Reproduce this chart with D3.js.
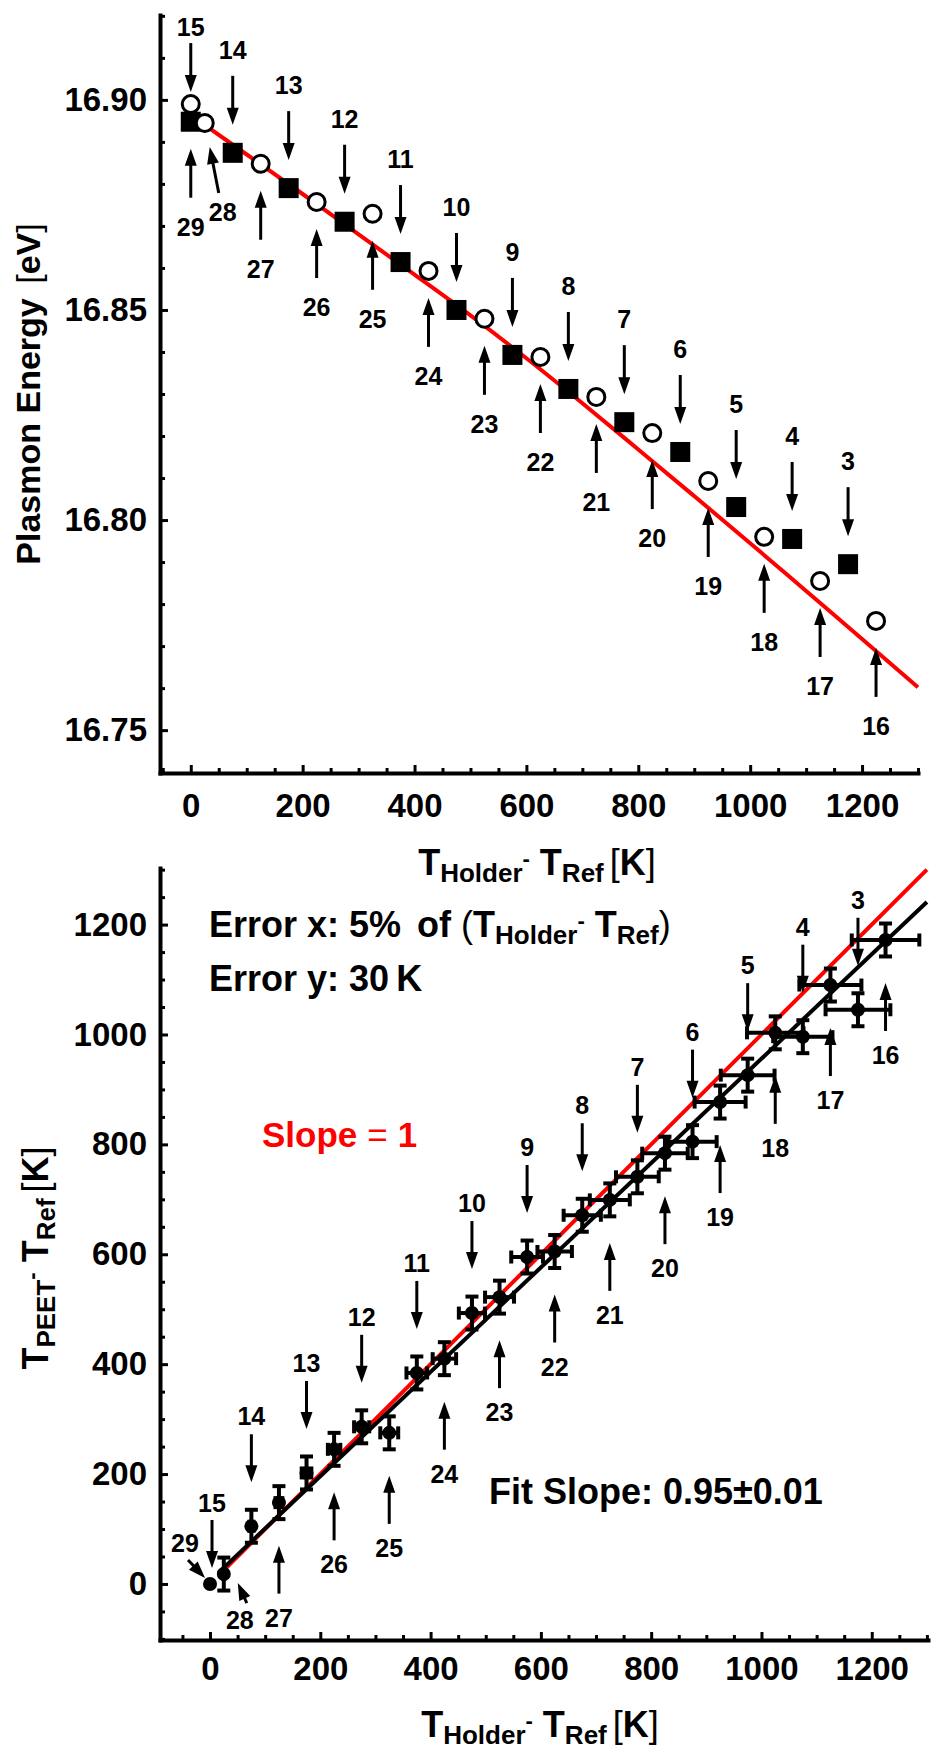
<!DOCTYPE html>
<html>
<head>
<meta charset="utf-8">
<script src="https://cdn.jsdelivr.net/npm/d3@7"></script>
<style>
  body { margin: 0; background: #fff; }
  text { font-family: "Liberation Sans", Arial, sans-serif; font-weight: bold; }
</style>
</head>
<body>
<div id="chart"></div>
<script>
var WIDTH = 950
var HEIGHT = 1755

// heating run, arrows from above, labels 15 .. 3
var heatLabels = ["15","14","13","12","11","10","9","8","7","6","5","4","3"]
var heatT = [0,75,175,275,375,475,575,675,775,875,975,1075,1175]
var heatE = [16.899,16.8874,16.879,16.871,16.8614,16.850,16.8393,16.8312,16.8233,16.8162,16.8031,16.7955,16.7895]
var heatPeet = [0,105,202,286,384,493,595,671,741,805,926,996,1045]

// cooling run, arrows from below, labels 29 .. 16
var coolLabels = ["29","28","27","26","25","24","23","22","21","20","19","18","17","16"]
var coolT = [0,25,125,225,325,425,525,625,725,825,925,1025,1125,1225]
var coolE = [16.8948,16.8945,16.8848,16.8757,16.8729,16.8593,16.8479,16.8388,16.8293,16.8207,16.8093,16.7960,16.7855,16.7760]
var coolPeet = [0,18,148,245,275,410,522,605,699,784,877,1003,1090,1172]

// red guide curve in the top panel
var curveT = [10,100,200,300,400,500,600,700,800,900,1000,1100,1200,1300]
var curveE = [16.8954,16.8870,16.8776,16.8680,16.8584,16.8487,16.8385,16.8278,16.8168,16.8057,16.7945,16.7831,16.7717,16.7602]

// bottom panel lines
var lineT = [15, 1300]
var fitSlope = 0.95
var fitIntercept = 6
var errXFrac = 0.05
var errY = 30

var topXTicks = [0,200,400,600,800,1000,1200]
var topYTicks = [16.75,16.80,16.85,16.90]
var botXTicks = [0,200,400,600,800,1000,1200]
var botYTicks = [0,200,400,600,800,1000,1200]

var svg = d3.select("#chart").append("svg")
  .attr("width", WIDTH)
  .attr("height", HEIGHT)

var RED = "#ff0000"

function arrow(g, x1, y1, x2, y2) {
  // tail (x1,y1) -> tip (x2,y2)
  var dx = x2 - x1, dy = y2 - y1
  var len = Math.sqrt(dx*dx + dy*dy)
  var ux = dx/len, uy = dy/len
  var head = 17, hw = 6
  var bx = x2 - ux*head, by = y2 - uy*head
  g.append("line")
    .attr("x1", x1).attr("y1", y1)
    .attr("x2", bx + ux*2).attr("y2", by + uy*2)
    .attr("stroke", "#000").attr("stroke-width", 3)
  g.append("path")
    .attr("d", "M" + x2 + "," + y2 + "L" + (bx - uy*hw) + "," + (by + ux*hw) + "L" + (bx + uy*hw) + "," + (by - ux*hw) + "Z")
    .attr("fill", "#000")
}

function label(g, x, cy, txt) {
  g.append("text")
    .attr("x", x).attr("y", cy + 9)
    .attr("text-anchor", "middle")
    .attr("font-size", 25)
    .text(txt)
}

function styleAxis(g) {
  g.select(".domain").attr("stroke", "#000").attr("stroke-width", 4).attr("stroke-linecap", "square")
  g.selectAll(".tick line").attr("stroke", "#000").attr("stroke-width", 3)
  g.selectAll(".tick text").attr("font-size", 33).attr("fill", "#000")
    .style("font-family", '"Liberation Sans", Arial, sans-serif').style("font-weight", "bold")
}

function minorStyle(g) {
  g.select(".domain").remove()
  g.selectAll(".tick line").attr("stroke", "#000").attr("stroke-width", 3)
}

function minors(lo, hi, step, majors) {
  var out = []
  for (var v = lo; v <= hi + 1e-9; v += step) {
    var r = Math.round(v / step) * step
    var isMajor = majors.some(function(m){ return Math.abs(m - r) < step/10 })
    if (!isMajor) out.push(+r.toFixed(4))
  }
  return out
}

// T_a - T_b [K] style title with subscripts
function tempTitle(t, subA, subB, unit) {
  t.append("tspan").text("T")
  t.append("tspan").attr("font-size", 26).attr("dy", 7).text(subA)
  t.append("tspan").attr("font-size", 22).attr("dy", -16).text("-")
  t.append("tspan").attr("dy", 9).text(" T")
  t.append("tspan").attr("font-size", 26).attr("dy", 7).text(subB)
  if (unit) {
    t.append("tspan").attr("dy", -7).attr("font-weight", "normal").attr("dx", 6).text("[")
    t.append("tspan").text(unit)
    t.append("tspan").attr("font-weight", "normal").text("]")
  }
}

// ---------------- top panel ----------------
var xTop = d3.scaleLinear().domain([-55, 1300]).range([160, 918])
var yTop = d3.scaleLinear().domain([16.7398, 16.9202]).range([773, 15])

var upper = svg.append("g")

upper.append("g").attr("transform", "translate(0,773)")
  .call(d3.axisBottom(xTop).tickValues(minors(-50, 1300, 50, topXTicks)).tickSize(-5).tickSizeOuter(0).tickFormat(""))
  .call(minorStyle)
upper.append("g").attr("transform", "translate(160,0)")
  .call(d3.axisLeft(yTop).tickValues(minors(16.74, 16.92, 0.01, topYTicks)).tickSize(-5).tickSizeOuter(0).tickFormat(""))
  .call(minorStyle)

upper.append("g").attr("transform", "translate(0,773)")
  .call(d3.axisBottom(xTop).tickValues(topXTicks).tickSize(-8).tickSizeOuter(0).tickPadding(21).tickFormat(d3.format("d")))
  .call(styleAxis)
upper.append("g").attr("transform", "translate(160,0)")
  .call(d3.axisLeft(yTop).tickValues(topYTicks).tickSize(-8).tickSizeOuter(0).tickPadding(13).tickFormat(d3.format(".2f")))
  .call(styleAxis)

// red curve
var curveData = curveT.map(function(t, i){ return [t, curveE[i]] })
upper.append("path")
  .datum(curveData)
  .attr("fill", "none")
  .attr("stroke", RED)
  .attr("stroke-width", 4)
  .attr("d", d3.line().x(function(d){ return xTop(d[0]) }).y(function(d){ return yTop(d[1]) }).curve(d3.curveMonotoneX))

// markers: heating = filled squares, cooling = open circles (swapped at T = 0)
function topMarker(t, e, square) {
  if (square) {
    upper.append("rect")
      .attr("x", xTop(t) - 10).attr("y", yTop(e) - 10)
      .attr("width", 20).attr("height", 20)
      .attr("fill", "#000")
  } else {
    upper.append("circle")
      .attr("cx", xTop(t)).attr("cy", yTop(e)).attr("r", 8.5)
      .attr("fill", "#fff").attr("stroke", "#000").attr("stroke-width", 3)
  }
}
topMarker(heatT[0], heatE[0], false)
heatT.forEach(function(t, i){ if (i > 0) topMarker(t, heatE[i], true) })
coolT.forEach(function(t, i){ topMarker(t, coolE[i], i === 0) })

var topAnn = upper.append("g")
heatLabels.forEach(function(lab, i){
  var px = xTop(heatT[i]), py = yTop(heatE[i])
  var tip = py - 28, lo = 75
  if (lab === "15") { tip = py - 12; lo = 65 }
  arrow(topAnn, px, tip - 49, px, tip)
  label(topAnn, px, tip - lo, lab)
})
coolLabels.forEach(function(lab, i){
  var px = xTop(coolT[i]), py = yTop(coolE[i])
  if (lab === "28") {
    arrow(topAnn, px + 14, py + 70, px + 5, py + 24)
    label(topAnn, px + 18, py + 89, lab)
    return
  }
  var tip = py + 27
  arrow(topAnn, px, tip + 49, px, tip)
  label(topAnn, px, tip + 78, lab)
})

// top axis titles
var tx = upper.append("text").attr("x", 537).attr("y", 875).attr("text-anchor", "middle").attr("font-size", 36)
tempTitle(tx, "Holder", "Ref", "K")

var ty = upper.append("text").attr("transform", "translate(40,394) rotate(-90)").attr("text-anchor", "middle").attr("font-size", 34)
ty.append("tspan").text("Plasmon Energy ")
ty.append("tspan").attr("font-weight", "normal").attr("dx", 5).text("[")
ty.append("tspan").text("eV")
ty.append("tspan").attr("font-weight", "normal").text("]")

// ---------------- bottom panel ----------------
var xBot = d3.scaleLinear().domain([-90.7, 1302]).range([160, 928])
var yBot = d3.scaleLinear().domain([-102, 1303]).range([1640, 868])

var lower = svg.append("g")

lower.append("g").attr("transform", "translate(0,1640)")
  .call(d3.axisBottom(xBot).tickValues(minors(-50, 1300, 50, botXTicks)).tickSize(-5).tickSizeOuter(0).tickFormat(""))
  .call(minorStyle)
lower.append("g").attr("transform", "translate(160,0)")
  .call(d3.axisLeft(yBot).tickValues(minors(-100, 1300, 50, botYTicks)).tickSize(-5).tickSizeOuter(0).tickFormat(""))
  .call(minorStyle)

lower.append("g").attr("transform", "translate(0,1640)")
  .call(d3.axisBottom(xBot).tickValues(botXTicks).tickSize(-8).tickSizeOuter(0).tickPadding(17).tickFormat(d3.format("d")))
  .call(styleAxis)
lower.append("g").attr("transform", "translate(160,0)")
  .call(d3.axisLeft(yBot).tickValues(botYTicks).tickSize(-8).tickSizeOuter(0).tickPadding(13).tickFormat(d3.format("d")))
  .call(styleAxis)

// slope = 1 and fitted line
lower.append("line")
  .attr("x1", xBot(lineT[0])).attr("y1", yBot(lineT[0]))
  .attr("x2", xBot(lineT[1])).attr("y2", yBot(lineT[1]))
  .attr("stroke", RED).attr("stroke-width", 4)
lower.append("line")
  .attr("x1", xBot(lineT[0])).attr("y1", yBot(fitSlope*lineT[0] + fitIntercept))
  .attr("x2", xBot(lineT[1])).attr("y2", yBot(fitSlope*lineT[1] + fitIntercept))
  .attr("stroke", "#000").attr("stroke-width", 4)

var pts = heatT.map(function(t, i){ return { t: t, p: heatPeet[i] } })
  .concat(coolT.slice(1).map(function(t, i){ return { t: t, p: coolPeet[i + 1] } }))

var eb = lower.append("g").attr("stroke", "#000")
pts.forEach(function(d){
  if (d.t === 0) return
  var x0 = xBot(d.t - d.t*errXFrac), x1 = xBot(d.t + d.t*errXFrac)
  var y0 = yBot(d.p - errY), y1 = yBot(d.p + errY)
  var cx = xBot(d.t), cy = yBot(d.p)
  eb.append("line").attr("x1", x0).attr("x2", x1).attr("y1", cy).attr("y2", cy).attr("stroke-width", 4)
  eb.append("line").attr("x1", cx).attr("x2", cx).attr("y1", y0).attr("y2", y1).attr("stroke-width", 4)
  eb.append("line").attr("x1", x0).attr("x2", x0).attr("y1", cy - 6.5).attr("y2", cy + 6.5).attr("stroke-width", 4)
  eb.append("line").attr("x1", x1).attr("x2", x1).attr("y1", cy - 6.5).attr("y2", cy + 6.5).attr("stroke-width", 4)
  eb.append("line").attr("x1", cx - 6.5).attr("x2", cx + 6.5).attr("y1", y0).attr("y2", y0).attr("stroke-width", 4)
  eb.append("line").attr("x1", cx - 6.5).attr("x2", cx + 6.5).attr("y1", y1).attr("y2", y1).attr("stroke-width", 4)
})
lower.selectAll(".pt").data(pts).enter().append("circle")
  .attr("class", "pt")
  .attr("cx", function(d){ return xBot(d.t) })
  .attr("cy", function(d){ return yBot(d.p) })
  .attr("r", 7)
  .attr("fill", "#000")

var botAnn = lower.append("g")
heatLabels.forEach(function(lab, i){
  var px = xBot(heatT[i]), py = yBot(heatPeet[i])
  if (lab === "15") {
    arrow(botAnn, px + 2, py - 64, px + 2, py - 16)
    label(botAnn, px + 2, py - 81, lab)
    return
  }
  var tip = py - 44
  arrow(botAnn, px, tip - 48, px, tip)
  label(botAnn, px, tip - 66, lab)
})
coolLabels.forEach(function(lab, i){
  var px = xBot(coolT[i]), py = yBot(coolPeet[i])
  if (lab === "29") {
    arrow(botAnn, px - 22, py - 24, px - 5, py - 6)
    label(botAnn, px - 25, py - 41, lab)
    return
  }
  if (lab === "28") {
    arrow(botAnn, px + 23, py + 29, px + 14, py + 9)
    label(botAnn, px + 16, py + 46, lab)
    return
  }
  var tip = py + 43
  arrow(botAnn, px, tip + 48, px, tip)
  label(botAnn, px, tip + 72, lab)
})

// notes
var n1 = lower.append("text").attr("x", 209).attr("y", 937).attr("font-size", 36)
n1.append("tspan").text("Error x: 5%")
n1.append("tspan").attr("dx", 16).text("of")
n1.append("tspan").attr("dx", 10).attr("font-weight", "normal").text("(")
tempTitle(n1, "Holder", "Ref", null)
n1.append("tspan").attr("dy", -7).attr("font-weight", "normal").text(")")

lower.append("text").attr("x", 209).attr("y", 991).attr("font-size", 36).text("Error y: 30\u2009K")
var sl = lower.append("text").attr("x", 262).attr("y", 1147).attr("font-size", 35).attr("fill", RED)
sl.append("tspan").text("Slope")
sl.append("tspan").attr("dx", 10).attr("font-weight", "normal").text("=")
sl.append("tspan").attr("dx", 10).text("1")
lower.append("text").attr("x", 489).attr("y", 1504).attr("font-size", 36).text("Fit Slope: 0.95\u00b10.01")

var bxt = lower.append("text").attr("x", 540).attr("y", 1737).attr("text-anchor", "middle").attr("font-size", 36)
tempTitle(bxt, "Holder", "Ref", "K")

var byt = lower.append("text").attr("transform", "translate(48,1258) rotate(-90)").attr("text-anchor", "middle").attr("font-size", 36)
tempTitle(byt, "PEET", "Ref", "K")
</script>
</body>
</html>
